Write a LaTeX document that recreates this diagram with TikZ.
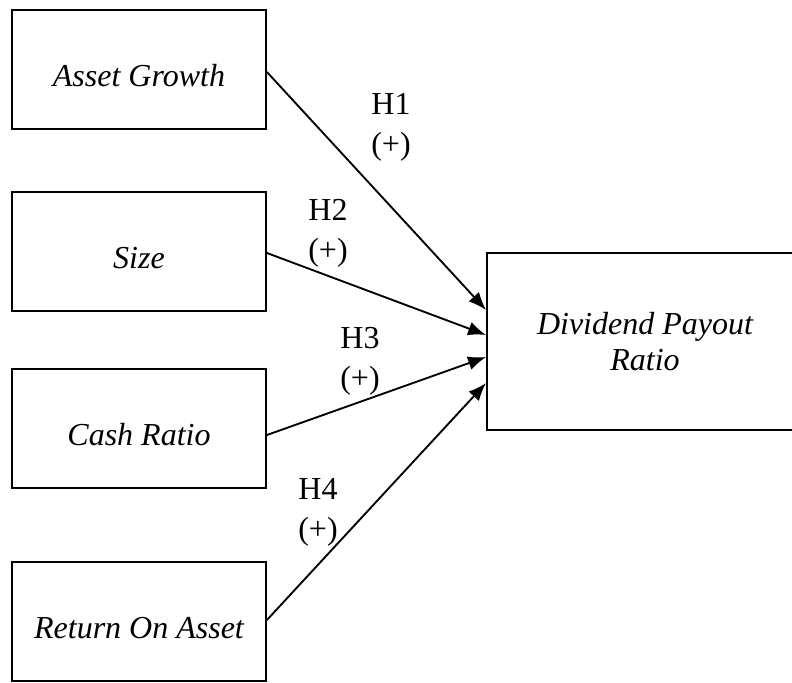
\documentclass[tikz,border=0pt]{standalone}
\usepackage{fontspec}
\setmainfont{Liberation Serif}
\usetikzlibrary{arrows.meta, calc}

\begin{document}
\begin{tikzpicture}[x=0.75pt, y=-0.75pt, line width=1.4pt,
		var/.style={draw, inner sep=0pt, minimum width=190.5pt, minimum height=89.25pt, font=\fontsize{24}{26}\selectfont\itshape, text height=26pt, text depth=0pt},
		dep/.style={draw, inner sep=0pt, minimum width=237pt, minimum height=132.75pt, align=center, font=\fontsize{24}{26.5}\selectfont\itshape},
		hyp/.style={align=center, inner sep=0pt, font=\fontsize{24}{30}\selectfont},
		link/.style={-{Latex[length=13.5pt,width=10.5pt]}}]
		\useasboundingbox (0,0) rectangle (792,682);
		\draw (139,69.5) node[var] (ag) {Asset Growth}
		(139,251.5) node[var] (sz) {Size}
		(139,428.5) node[var] (cr) {Cash Ratio}
		(139,621.5) node[var] (roa) {Return On Asset}
		(645,341.5) node[dep] (dpr) {Dividend Payout\\Ratio}
		(391,127) node[hyp] (h1) {H1\\(+)}
		(328,233) node[hyp] (h2) {H2\\(+)}
		(360,361) node[hyp] (h3) {H3\\(+)}
		(318,512) node[hyp] (h4) {H4\\(+)};
		
		\draw[link] ($(ag.east)+(0,2.5)$) -- ($(dpr.west)+(0,-31.5)$);
		\draw[link] ($(sz.east)+(0,1.5)$) -- ($(dpr.west)+(0,-6.5)$);
		\draw[link] ($(cr.east)+(0,6.5)$) -- ($(dpr.west)+(0,15.5)$);
		\draw[link] ($(roa.east)+(0,-1.5)$) -- ($(dpr.west)+(0,41.5)$);
	\end{tikzpicture}
\end{document}
